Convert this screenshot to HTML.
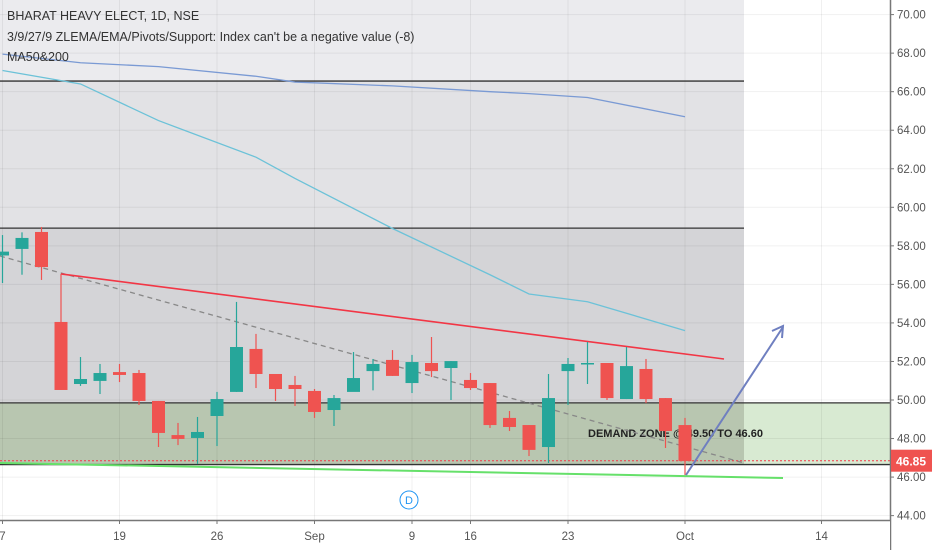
<!DOCTYPE html>
<html><head><meta charset="utf-8"><style>
body{margin:0;background:#fff;}
svg{display:block;font-family:"Liberation Sans",sans-serif;}
</style></head><body>
<svg id="c" width="932" height="550"></svg>
<script>
const opens =[57.5,57.84,58.72,54.05,50.83,50.99,51.45,51.40,49.95,48.18,48.03,49.17,50.42,52.65,51.35,50.78,50.47,49.48,50.42,51.50,52.08,50.88,51.92,51.66,51.04,50.88,49.07,48.70,47.56,51.50,51.90,51.92,50.05,51.61,50.10,48.70];
const closes=[57.7,58.41,56.90,50.52,51.09,51.40,51.30,49.95,48.29,47.98,48.34,50.05,52.75,51.35,50.57,50.57,49.38,50.10,51.14,51.87,51.25,51.97,51.50,52.02,50.62,48.70,48.60,47.41,50.10,51.87,51.92,50.10,51.76,50.05,48.39,46.83];
const highs =[58.56,58.70,58.98,56.54,52.23,51.87,51.87,51.56,49.95,48.81,49.12,50.42,55.09,53.43,51.35,51.25,50.57,50.26,52.49,52.13,52.59,52.34,53.27,52.02,51.40,50.88,49.43,48.70,51.35,52.18,53.01,51.92,52.75,52.13,50.10,49.07];
const lows  =[56.07,56.50,56.23,50.52,50.73,50.31,50.93,49.74,47.56,47.66,46.68,47.61,50.42,50.62,49.95,49.69,49.07,48.65,51.00,50.50,51.25,50.36,51.19,50.00,50.52,48.55,48.39,47.09,46.73,49.74,50.83,50.00,50.05,49.84,47.51,46.11];
const tickIdx=[0,6,11,16,21,24,29,35,42];
const tickLabels=["7","19","26","Sep","9","16","23","Oct","14"];
const priceTicks=[44,46,48,50,52,54,56,58,60,62,64,66,68,70];
const maIdx=[0,4,8,13,15,20,25,27,30,35];
const ma200=[67.95,67.5,67.3,66.8,66.5,66.3,66.0,65.9,65.7,64.7];
const ma50=[67.1,66.4,64.5,62.6,61.5,58.9,56.5,55.5,55.1,53.6];
const NS="http://www.w3.org/2000/svg";
const svg=document.getElementById('c');
const X=i=>2.5+i*19.5;
const Y=p=>400-(p-50)*19.27;
function mk(t,a,p){const e=document.createElementNS(NS,t);for(const k in a)e.setAttribute(k,a[k]);(p||svg).appendChild(e);return e;}
// backgrounds
let r;
r=mk('rect',{x:0,y:0,width:744,height:Y(66.55),fill:'#ebebee'});

r=mk('rect',{x:0,y:Y(66.55),width:744,height:Y(58.92)-Y(66.55),fill:'#e2e2e5'});

r=mk('rect',{x:0,y:Y(58.92),width:744,height:Y(49.85)-Y(58.92),fill:'#d4d4d7'});

r=mk('rect',{x:0,y:Y(49.85),width:890,height:Y(46.65)-Y(49.85),fill:'#d8ead2'});

r=mk('rect',{x:0,y:Y(49.85),width:744,height:Y(46.65)-Y(49.85),fill:'#b8c6b0'});

// grid
priceTicks.forEach(p=>{const l=mk('line',{x1:0,x2:890,y1:Y(p),y2:Y(p),stroke:'#000','stroke-opacity':0.06});
});
tickIdx.forEach(i=>{const l=mk('line',{x1:X(i),x2:X(i),y1:0,y2:520,stroke:'#000','stroke-opacity':0.06});
});
// horizontal levels
[66.55,58.92,49.85,46.65].forEach((p,k)=>{const l=mk('line',{x1:0,x2:k<2?744:890,y1:Y(p),y2:Y(p),stroke:'#333','stroke-width':1.3});
});
// MAs
function poly(vals,col,name){const pts=maIdx.map((i,k)=>X(i)+','+Y(vals[k])).join(' ');const e=mk('polyline',{points:pts,fill:'none',stroke:col,'stroke-width':1.3});
}
poly(ma200,'#7a9ad4','ma200-line');poly(ma50,'#6cc2d8','ma50-line');
// demand text
let t=mk('text',{x:588,y:437,'font-size':11,'font-weight':'bold',fill:'#222'});t.textContent='DEMAND ZONE @ 49.50 TO 46.60';

// trend lines
let e;
e=mk('line',{x1:0,y1:256,x2:744,y2:463,stroke:'#888','stroke-width':1.3,'stroke-dasharray':'5,4'});

e=mk('line',{x1:X(3),y1:Y(56.54),x2:724,y2:359,stroke:'#f23645','stroke-width':1.6});

e=mk('line',{x1:0,y1:463,x2:783,y2:478,stroke:'#66e06a','stroke-width':2});

e=mk('line',{x1:0,y1:Y(46.85),x2:890,y2:Y(46.85),stroke:'#f23645','stroke-width':1,'stroke-dasharray':'2,2'});

// candles
opens.forEach((o,i)=>{const c=closes[i];const col=c>=o?'#26a69a':'#ef5350';const x=X(i);
const g=mk('g',{});
mk('line',{x1:x,x2:x,y1:Y(highs[i]),y2:Y(lows[i]),stroke:col,'stroke-width':1.2},g);
const top=Y(Math.max(o,c)),h=Math.max(1.5,Math.abs(Y(o)-Y(c)));
mk('rect',{x:x-6.5,y:top,width:13,height:h,fill:col},g);});
// arrow
e=mk('g',{});
mk('line',{x1:686,y1:475,x2:783,y2:327,stroke:'#6f7fc0','stroke-width':2},e);
mk('polyline',{points:'772,331 783,326 782,338',fill:'none',stroke:'#6f7fc0','stroke-width':2},e);
// D marker
e=mk('g',{});
mk('circle',{cx:409,cy:500,r:9,fill:'#fff',stroke:'#2196f3','stroke-width':1},e);
t=mk('text',{x:409,y:504,'font-size':11,fill:'#2196f3','text-anchor':'middle'},e);t.textContent='D';
// axes
e=mk('rect',{x:890,y:0,width:42,height:550,fill:'#fff'});
e=mk('line',{x1:890.5,x2:890.5,y1:0,y2:550,stroke:'#777','stroke-width':1.5});

e=mk('rect',{x:0,y:521,width:890,height:29,fill:'#fff'});
e=mk('line',{x1:0,x2:890,y1:520.5,y2:520.5,stroke:'#777','stroke-width':1.5});

priceTicks.forEach(p=>{mk('line',{x1:890,x2:894,y1:Y(p),y2:Y(p),stroke:'#777'});
const tt=mk('text',{x:897,y:Y(p)+4,'font-size':11.5,fill:'#555'});tt.textContent=p.toFixed(2);
});
tickIdx.forEach((i,k)=>{mk('line',{x1:X(i),x2:X(i),y1:520,y2:524,stroke:'#777'});
const tt=mk('text',{x:X(i),y:540,'font-size':11.5,fill:'#555','text-anchor':'middle'});tt.textContent=tickLabels[k];
});
// last price tag
e=mk('g',{});
mk('rect',{x:891,y:Y(46.85)-11,width:41,height:22,fill:'#ef5350'},e);
t=mk('text',{x:896,y:Y(46.85)+5,'font-size':12,'font-weight':'bold',fill:'#fff'},e);t.textContent='46.85';
// legend
[['BHARAT HEAVY ELECT, 1D, NSE',20,'legend-title'],["3/9/27/9 ZLEMA/EMA/Pivots/Support: Index can't be a negative value (-8)",41,'legend-indicator'],['MA50&200',61,'legend-ma']].forEach(a=>{
const tt=mk('text',{x:7,y:a[1],'font-size':12.5,fill:'#333'});tt.textContent=a[0];
});
</script>
</body></html>
